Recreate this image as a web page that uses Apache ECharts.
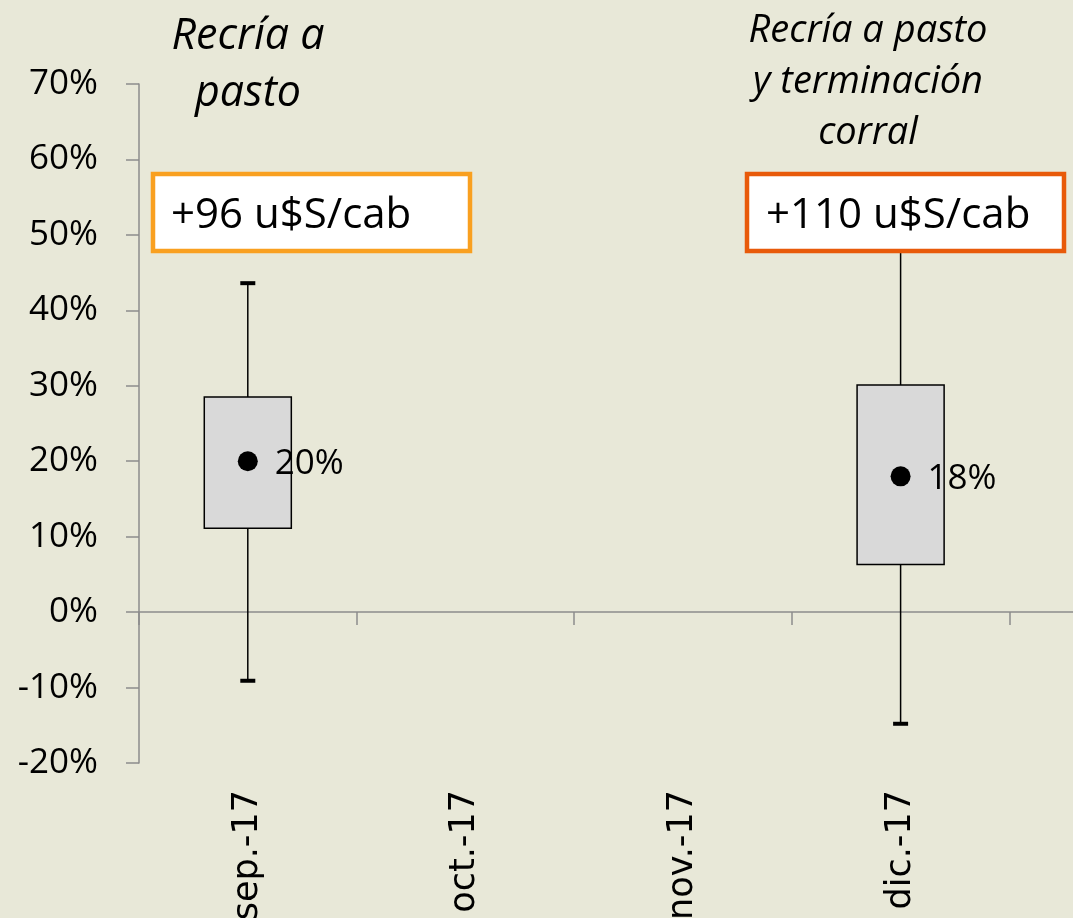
<!DOCTYPE html>
<html>
<head>
<meta charset="utf-8">
<script src="https://cdn.jsdelivr.net/npm/echarts@6/dist/echarts.min.js"></script>
<style>
html,body{margin:0;padding:0;background:#E8E8D8;}
#chart{width:1073px;height:918px;}
</style>
</head>
<body>
<div id="chart"></div>
<script>
// ---- data ----
var categories = ['sep.-17', 'oct.-17', 'nov.-17', 'dic.-17', 'ene.-18'];
var boxIndex = [0, 3];               // category index of each box
var whiskerLow = [-9.1, -14.8];      // %
var quartile1 = [11.1, 6.3];         // %
var quartile3 = [28.5, 30.1];        // %
var whiskerHigh = [43.6, 55.0];      // % (dic upper end hidden behind label)
var meanValue = [20, 18];            // %
var yTicks = { min: -20, max: 70, interval: 10 };
var titleLeft = 'Recría a\npasto';
var titleRight = 'Recría a pasto\ny terminación\ncorral';
var gainLeft = '+96 u$S/cab';
var gainRight = '+110 u$S/cab';

var boxData = boxIndex.map(function (c, i) {
  return [c, whiskerLow[i], quartile1[i], quartile3[i], whiskerHigh[i]];
});
var meanData = boxIndex.map(function (c, i) { return [c, meanValue[i]]; });

var chart = echarts.init(document.getElementById('chart'), null, { renderer: 'canvas' });
var axisGray = '#8C8C8C';
var numFont = '"Open Sans", "Noto Sans", sans-serif';

var option = {
  backgroundColor: '#E8E8D8',
  animation: false,
  grid: {
    left: 139, top: 84, bottom: 155, right: -154,
    containLabel: false, outerBoundsMode: 'none'
  },
  xAxis: [
    {
      type: 'category', data: categories, position: 'bottom',
      axisLine: { onZero: true, lineStyle: { color: axisGray, width: 1.5 } },
      axisTick: { show: true, length: 13, lineStyle: { color: axisGray, width: 1.5 } },
      axisLabel: { show: false },
      splitLine: { show: false }
    },
    {
      type: 'category', data: categories, position: 'bottom',
      axisLine: { show: false, onZero: false },
      axisTick: { show: false },
      axisLabel: {
        show: true, rotate: 90, margin: 27, interval: 0,
        fontFamily: '"DejaVu Sans", sans-serif', fontSize: 35, color: '#000'
      },
      splitLine: { show: false }
    }
  ],
  yAxis: {
    type: 'value', min: yTicks.min, max: yTicks.max, interval: yTicks.interval,
    axisLine: { show: true, onZero: false, lineStyle: { color: axisGray, width: 1.5 } },
    axisTick: { show: true, length: 13, lineStyle: { color: axisGray, width: 1.5 } },
    axisLabel: {
      formatter: '{value}%', margin: 41, fontFamily: numFont, fontSize: 35, color: '#000'
    },
    splitLine: { show: false }
  },
  series: [
    {
      type: 'custom',
      xAxisIndex: 0, yAxisIndex: 0,
      z: 2,
      data: boxData,
      renderItem: function (params, api) {
        var c = api.value(0);
        var pLow = api.coord([c, api.value(1)]);
        var pQ1 = api.coord([c, api.value(2)]);
        var pQ3 = api.coord([c, api.value(3)]);
        var pHigh = api.coord([c, api.value(4)]);
        var bw = api.size([1, 0])[0] * 0.4;
        var x = pLow[0];
        var capW = 15;
        return {
          type: 'group',
          children: [
            { type: 'line', shape: { x1: x, y1: pHigh[1], x2: x, y2: pLow[1] },
              style: { stroke: '#000', lineWidth: 1.5 } },
            { type: 'rect', shape: { x: x - bw / 2, y: pQ3[1], width: bw, height: pQ1[1] - pQ3[1] },
              style: { fill: '#D9D9D9', stroke: '#000', lineWidth: 1.5 } },
            { type: 'line', shape: { x1: x - capW / 2, y1: pHigh[1], x2: x + capW / 2, y2: pHigh[1] },
              style: { stroke: '#000', lineWidth: 4 } },
            { type: 'line', shape: { x1: x - capW / 2, y1: pLow[1], x2: x + capW / 2, y2: pLow[1] },
              style: { stroke: '#000', lineWidth: 4 } }
          ]
        };
      }
    },
    {
      type: 'scatter',
      xAxisIndex: 0, yAxisIndex: 0,
      z: 3,
      symbol: 'circle', symbolSize: 20,
      itemStyle: { color: '#000', opacity: 1 },
      data: meanData,
      label: {
        show: true, position: 'right', distance: 17,
        formatter: function (p) { return p.value[1] + '%'; },
        fontFamily: numFont, fontSize: 35, color: '#000', offset: [0, 3]
      }
    }
  ],
  graphic: [
    {
      type: 'text', z: 10,
      x: 248, y: 8,
      style: {
        text: titleLeft, font: 'italic 43px "Open Sans", sans-serif',
        fill: '#000', align: 'center', verticalAlign: 'top', lineHeight: 57
      }
    },
    {
      type: 'text', z: 10,
      x: 868, y: 6,
      style: {
        text: titleRight, font: 'italic 38px "Open Sans", sans-serif',
        fill: '#000', align: 'center', verticalAlign: 'top', lineHeight: 51
      }
    },
    {
      type: 'rect', z: 10,
      shape: { x: 153, y: 174, width: 317, height: 77 },
      style: { fill: '#FFFFFF', stroke: '#F9A020', lineWidth: 4.5 }
    },
    {
      type: 'text', z: 11,
      x: 171, y: 216,
      style: {
        text: gainLeft, font: '42px "Open Sans", sans-serif',
        fill: '#000', align: 'left', verticalAlign: 'middle'
      }
    },
    {
      type: 'rect', z: 10,
      shape: { x: 747, y: 174, width: 317, height: 77 },
      style: { fill: '#FFFFFF', stroke: '#E85A0A', lineWidth: 4.5 }
    },
    {
      type: 'text', z: 11,
      x: 766, y: 216,
      style: {
        text: gainRight, font: '42px "Open Sans", sans-serif',
        fill: '#000', align: 'left', verticalAlign: 'middle'
      }
    }
  ]
};
chart.setOption(option);
</script>
</body>
</html>
